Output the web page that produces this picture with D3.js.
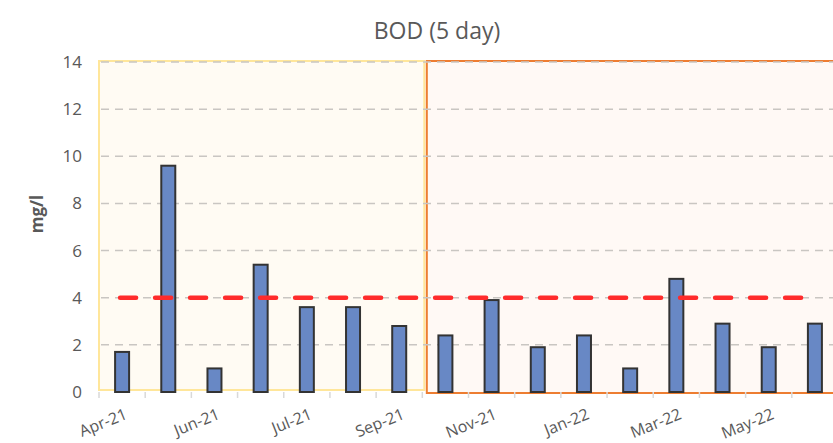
<!DOCTYPE html>
<html>
<head>
<meta charset="utf-8">
<script src="https://cdn.jsdelivr.net/npm/d3@7"></script>
<style>
  body { margin: 0; background: #fff; }
  svg { display: block; }
</style>
</head>
<body>
<svg id="chart" width="833" height="443"></svg>
<script>
// ---- data ----
const categories = ["Apr-21","May-21","Jun-21","Jun-21b","Jul-21","Aug-21","Sep-21","Oct-21","Nov-21","Dec-21","Jan-22","Feb-22","Mar-22","Apr-22","May-22","Jun-22"];
const displayLabels = ["Apr-21","","Jun-21","","Jul-21","","Sep-21","","Nov-21","","Jan-22","","Mar-22","","May-22",""];
const bodValues = [1.7, 9.6, 1.0, 5.4, 3.6, 3.6, 2.8, 2.4, 3.9, 1.9, 2.4, 1.0, 4.8, 2.9, 1.9, 2.9];
const limitValue = 4;
const yTicks = [0, 2, 4, 6, 8, 10, 12, 14];
const period1 = categories.slice(0, 7);
const period2 = categories.slice(7);

// ---- layout ----
const svg = d3.select("#chart");
const pLeft = 99, pRight = 838, pTop = 62, pBottom = 392;
const font = "Open Sans, Liberation Sans, sans-serif";

const x = d3.scaleBand().domain(categories).range([pLeft, pRight]).paddingInner(0).paddingOuter(0);
const y = d3.scaleLinear().domain([0, 14]).range([pBottom, pTop]);
const bw = x.bandwidth();

// period regions
const r1x0 = x(period1[0]), r1x1 = x(period1[period1.length - 1]) + bw + 2;
svg.append("rect")
  .attr("x", r1x0).attr("y", y(14) - 1)
  .attr("width", r1x1 - r1x0).attr("height", y(0) - y(14) - 1)
  .attr("fill", "#fffbf3").attr("stroke", "#ffe69a").attr("stroke-width", 2);

const r2x0 = x(period2[0]) + 4.5, r2x1 = x(period2[period2.length - 1]) + bw + 10;
svg.append("rect")
  .attr("x", r2x0).attr("y", y(14) - 1)
  .attr("width", r2x1 - r2x0).attr("height", y(0) - y(14) + 2)
  .attr("fill", "#fff9f5").attr("stroke", "#ed7d31").attr("stroke-width", 2);

// gridlines
svg.append("g").selectAll("line").data(yTicks.filter(d => d > 0)).join("line")
  .attr("x1", pLeft + 2).attr("x2", 833)
  .attr("y1", d => y(d)).attr("y2", d => y(d))
  .attr("stroke", "#c9c6c2").attr("stroke-width", 1.5)
  .attr("stroke-dasharray", "8,6");

// x axis ticks (category boundaries)
svg.append("g").selectAll("line").data(categories).join("line")
  .attr("x1", d => x(d)).attr("x2", d => x(d))
  .attr("y1", pBottom).attr("y2", pBottom + 6)
  .attr("stroke", "#d9d9d9").attr("stroke-width", 1.5);

// y axis labels
svg.append("g").selectAll("text").data(yTicks).join("text")
  .attr("x", 82).attr("y", d => y(d))
  .attr("dy", "0.35em")
  .attr("text-anchor", "end")
  .attr("font-family", font)
  .attr("font-size", 17)
  .attr("fill", "#595959")
  .text(d => d);

// bars
svg.append("g").selectAll("rect").data(bodValues).join("rect")
  .attr("x", (d, i) => x(categories[i]) + bw / 2 - 7)
  .attr("y", d => y(d))
  .attr("width", 14)
  .attr("height", d => y(0) - y(d))
  .attr("fill", "#6888c5")
  .attr("stroke", "#333333")
  .attr("stroke-width", 2);

// limit line
svg.append("line")
  .attr("x1", x(categories[0]) + bw / 2 - 2)
  .attr("x2", x(categories[categories.length - 1]) + bw / 2)
  .attr("y1", y(limitValue)).attr("y2", y(limitValue))
  .attr("stroke", "#ff2b2b").attr("stroke-width", 4.5)
  .attr("stroke-linecap", "round")
  .attr("stroke-dasharray", "16,19");

// x labels
svg.append("g").selectAll("text").data(categories).join("text")
  .attr("transform", (d, i) => `translate(${x(d) + bw / 2 + 2},${408}) rotate(-22)`)
  .attr("text-anchor", "end")
  .attr("dy", "0.7em")
  .attr("font-family", font)
  .attr("font-size", 16)
  .attr("fill", "#595959")
  .text((d, i) => displayLabels[i]);

// title
svg.append("text")
  .attr("x", 437).attr("y", 39)
  .attr("text-anchor", "middle")
  .attr("font-family", font)
  .attr("font-size", 23)
  .attr("fill", "#595959")
  .text("BOD (5 day)");

// y axis title
svg.append("text")
  .attr("transform", `translate(43,${214}) rotate(-90)`)
  .attr("text-anchor", "middle")
  .attr("font-family", font)
  .attr("font-size", 17)
  .attr("font-weight", "bold")
  .attr("fill", "#595959")
  .text("mg/l");
</script>
</body>
</html>
